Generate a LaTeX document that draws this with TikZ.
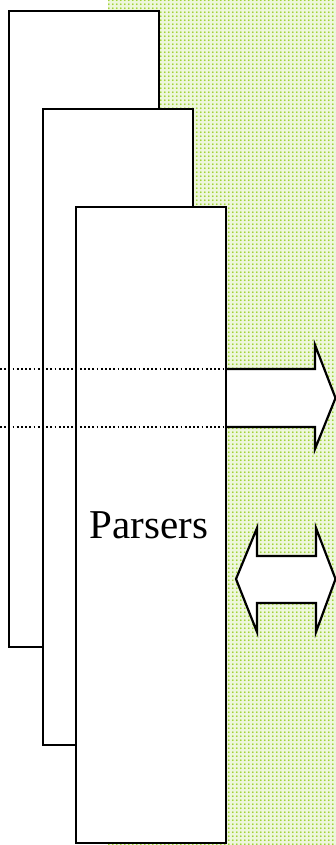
\documentclass[tikz,border=0pt]{standalone}
\usepackage{fontspec}
\setmainfont{Liberation Serif}
\usetikzlibrary{patterns.meta}
\definecolor{dotgreen}{RGB}{155,208,40}
\definecolor{palegreen}{RGB}{238,247,220}
\tikzdeclarepattern{
  name=greendots,
  type=uncolored,
  bottom left={(0pt,0pt)},
  top right={(4.3pt,4.3pt)},
  tile size={(4.3pt,4.3pt)},
  code={\fill (2.15pt,2.15pt) circle (1.15pt);}
}
\tikzset{
  layer/.style={rectangle, draw=black, fill=white, line width=2.2pt,
    anchor=north west, minimum width=150pt, minimum height=636pt, inner sep=0pt},
  blockarrow/.style={draw=black, fill=white, line width=2.2pt, line join=miter},
  guide/.style={line width=2pt, dash pattern=on 1.8pt off 2.4pt},
}
\begin{document}
\begin{tikzpicture}[x=1pt, y=-1pt]
  \useasboundingbox (0,0) rectangle (336,845);
  % dotted green backdrop
  \fill[palegreen] (108,0) rectangle (336,845);
  \fill[pattern=greendots, pattern color=dotgreen] (108,0) rectangle (336,845);
  % stacked layers
  \node[layer] (b1) at (8,10) {};
  \node[layer] (b2) at (42,108) {};
  \node[layer] (b3) at (75,206) {};
  \node[font=\fontsize{41}{48}\selectfont, anchor=base] (lbl) at (149,538) {Parsers};
  % guide lines into the output arrow
  \coordinate (g1) at (0,369);
  \coordinate (g2) at (0,427);
  \draw[guide] (g1) -- (g1 -| b3.east);
  \draw[guide] (g2) -- (g2 -| b3.east);
  % output arrow
  \draw[blockarrow] (g1 -| b3.east) -- (315,369) -- (315,345) -- (335.5,398)
     -- (315,449) -- (315,427) -- (g2 -| b3.east);
  % two-way arrow
  \draw[blockarrow] (236,579) -- (257,528) -- (257,556) -- (316,556) -- (316,528)
     -- (335.5,579) -- (316,632) -- (316,603) -- (257,603) -- (257,632) -- cycle;
\end{tikzpicture}
\end{document}
